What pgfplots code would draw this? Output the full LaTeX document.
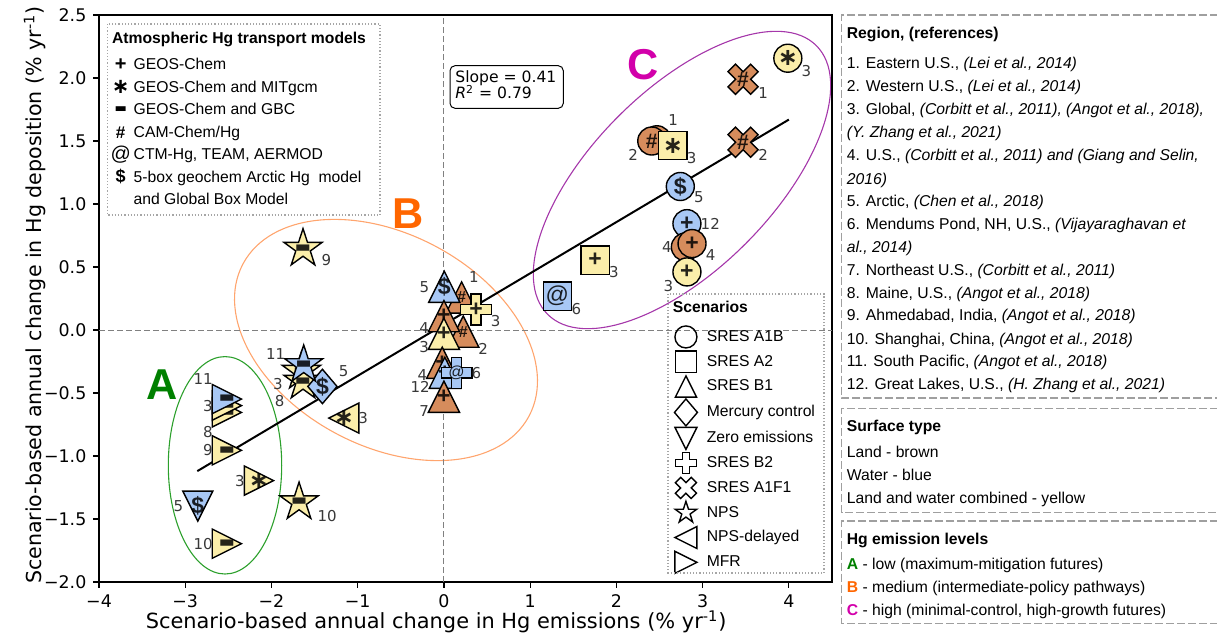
\documentclass[border=0pt]{standalone}
\usepackage{pgfplots}
\pgfplotsset{compat=1.18}
\usepackage{fontspec}
\setmainfont{Liberation Sans}
\newfontfamily\dv{DejaVu Sans}
\newcommand{\fs}[1]{\fontsize{#1}{#1}\selectfont}

\definecolor{cbrown}{RGB}{214,140,92}
\definecolor{cblue}{RGB}{168,200,245}
\definecolor{cyel}{RGB}{251,238,170}
\definecolor{cgreen}{RGB}{0,128,0}
\definecolor{corange}{RGB}{255,102,0}
\definecolor{cmag}{RGB}{210,0,170}
\definecolor{egreen}{RGB}{44,160,44}
\definecolor{eorange}{RGB}{255,165,110}
\definecolor{epurple}{RGB}{165,55,170}

% custom marks
\pgfdeclareplotmark{mtri}{\pgfpathmoveto{\pgfqpoint{0pt}{\pgfplotmarksize}}\pgfpathlineto{\pgfqpoint{-\pgfplotmarksize}{-\pgfplotmarksize}}\pgfpathlineto{\pgfqpoint{\pgfplotmarksize}{-\pgfplotmarksize}}\pgfpathclose\pgfusepathqfillstroke}
\pgfdeclareplotmark{mtrid}{\pgfpathmoveto{\pgfqpoint{0pt}{-\pgfplotmarksize}}\pgfpathlineto{\pgfqpoint{-\pgfplotmarksize}{\pgfplotmarksize}}\pgfpathlineto{\pgfqpoint{\pgfplotmarksize}{\pgfplotmarksize}}\pgfpathclose\pgfusepathqfillstroke}
\pgfdeclareplotmark{mtril}{\pgfpathmoveto{\pgfqpoint{-\pgfplotmarksize}{0pt}}\pgfpathlineto{\pgfqpoint{\pgfplotmarksize}{\pgfplotmarksize}}\pgfpathlineto{\pgfqpoint{\pgfplotmarksize}{-\pgfplotmarksize}}\pgfpathclose\pgfusepathqfillstroke}
\pgfdeclareplotmark{mtrir}{\pgfpathmoveto{\pgfqpoint{\pgfplotmarksize}{0pt}}\pgfpathlineto{\pgfqpoint{-\pgfplotmarksize}{\pgfplotmarksize}}\pgfpathlineto{\pgfqpoint{-\pgfplotmarksize}{-\pgfplotmarksize}}\pgfpathclose\pgfusepathqfillstroke}
\pgfdeclareplotmark{mdiam}{\pgfpathmoveto{\pgfqpoint{0pt}{\pgfplotmarksize}}\pgfpathlineto{\pgfqpoint{0.85\pgfplotmarksize}{0pt}}\pgfpathlineto{\pgfqpoint{0pt}{-\pgfplotmarksize}}\pgfpathlineto{\pgfqpoint{-0.85\pgfplotmarksize}{0pt}}\pgfpathclose\pgfusepathqfillstroke}
\pgfdeclareplotmark{mstar}{%
\pgfpathmoveto{\pgfqpoint{0pt}{\pgfplotmarksize}}%
\pgfpathlineto{\pgfqpoint{-0.2245\pgfplotmarksize}{0.3090\pgfplotmarksize}}%
\pgfpathlineto{\pgfqpoint{-0.9511\pgfplotmarksize}{0.3090\pgfplotmarksize}}%
\pgfpathlineto{\pgfqpoint{-0.3633\pgfplotmarksize}{-0.1180\pgfplotmarksize}}%
\pgfpathlineto{\pgfqpoint{-0.5878\pgfplotmarksize}{-0.8090\pgfplotmarksize}}%
\pgfpathlineto{\pgfqpoint{0pt}{-0.382\pgfplotmarksize}}%
\pgfpathlineto{\pgfqpoint{0.5878\pgfplotmarksize}{-0.8090\pgfplotmarksize}}%
\pgfpathlineto{\pgfqpoint{0.3633\pgfplotmarksize}{-0.1180\pgfplotmarksize}}%
\pgfpathlineto{\pgfqpoint{0.9511\pgfplotmarksize}{0.3090\pgfplotmarksize}}%
\pgfpathlineto{\pgfqpoint{0.2245\pgfplotmarksize}{0.3090\pgfplotmarksize}}%
\pgfpathclose\pgfusepathqfillstroke}
\pgfdeclareplotmark{mplus}{%
\pgfpathmoveto{\pgfqpoint{0.3333\pgfplotmarksize}{\pgfplotmarksize}}%
\pgfpathlineto{\pgfqpoint{-0.3333\pgfplotmarksize}{\pgfplotmarksize}}%
\pgfpathlineto{\pgfqpoint{-0.3333\pgfplotmarksize}{0.3333\pgfplotmarksize}}%
\pgfpathlineto{\pgfqpoint{-\pgfplotmarksize}{0.3333\pgfplotmarksize}}%
\pgfpathlineto{\pgfqpoint{-\pgfplotmarksize}{-0.3333\pgfplotmarksize}}%
\pgfpathlineto{\pgfqpoint{-0.3333\pgfplotmarksize}{-0.3333\pgfplotmarksize}}%
\pgfpathlineto{\pgfqpoint{-0.3333\pgfplotmarksize}{-\pgfplotmarksize}}%
\pgfpathlineto{\pgfqpoint{0.3333\pgfplotmarksize}{-\pgfplotmarksize}}%
\pgfpathlineto{\pgfqpoint{0.3333\pgfplotmarksize}{-0.3333\pgfplotmarksize}}%
\pgfpathlineto{\pgfqpoint{\pgfplotmarksize}{-0.3333\pgfplotmarksize}}%
\pgfpathlineto{\pgfqpoint{\pgfplotmarksize}{0.3333\pgfplotmarksize}}%
\pgfpathlineto{\pgfqpoint{0.3333\pgfplotmarksize}{0.3333\pgfplotmarksize}}%
\pgfpathclose\pgfusepathqfillstroke}
\pgfdeclareplotmark{mxx}{%
\pgfpathmoveto{\pgfqpoint{-0.4714\pgfplotmarksize}{0.9428\pgfplotmarksize}}%
\pgfpathlineto{\pgfqpoint{-0.9428\pgfplotmarksize}{0.4714\pgfplotmarksize}}%
\pgfpathlineto{\pgfqpoint{-0.4714\pgfplotmarksize}{0pt}}%
\pgfpathlineto{\pgfqpoint{-0.9428\pgfplotmarksize}{-0.4714\pgfplotmarksize}}%
\pgfpathlineto{\pgfqpoint{-0.4714\pgfplotmarksize}{-0.9428\pgfplotmarksize}}%
\pgfpathlineto{\pgfqpoint{0pt}{-0.4714\pgfplotmarksize}}%
\pgfpathlineto{\pgfqpoint{0.4714\pgfplotmarksize}{-0.9428\pgfplotmarksize}}%
\pgfpathlineto{\pgfqpoint{0.9428\pgfplotmarksize}{-0.4714\pgfplotmarksize}}%
\pgfpathlineto{\pgfqpoint{0.4714\pgfplotmarksize}{0pt}}%
\pgfpathlineto{\pgfqpoint{0.9428\pgfplotmarksize}{0.4714\pgfplotmarksize}}%
\pgfpathlineto{\pgfqpoint{0.4714\pgfplotmarksize}{0.9428\pgfplotmarksize}}%
\pgfpathlineto{\pgfqpoint{0pt}{0.4714\pgfplotmarksize}}%
\pgfpathclose\pgfusepathqfillstroke}

% symbols inside markers
\newcommand{\mP}{{\fs{11.5}\bfseries +}}
\newcommand{\mS}{{\dv\fs{12}\bfseries ∗}}
\newcommand{\mM}{{\dv\fs{8.5}▬}}
\newcommand{\mH}{{\fs{10.5}\bfseries \#}}
\newcommand{\mHs}{{\fs{8}\bfseries \#}}
\newcommand{\mA}{{\fs{11.5}@}}
\newcommand{\mAs}{{\fs{8}@}}
\newcommand{\mD}{{\fs{11.5}\bfseries \$}}

\tikzset{lbl/.style={font=\dv\fs{7.5}, text=black!78, inner sep=0.6pt}}

% x y mark size fill symbol label angle
\newcommand{\dpt}[8]{%
\addplot[forget plot, only marks, mark=#3, mark size=#4pt,
  mark options={fill=#5, draw=black, line width=0.7pt},
  nodes near coords={#6},
  every node near coord/.append style={anchor=center, inner sep=0pt, minimum size=#4*1.6pt,
     text=black, text opacity=0.85, label={[lbl]#8:#7}}]
  coordinates {(#1,#2)};}

\newcommand{\tl}[2]{\node[anchor=base west, inner sep=0pt, font=\fs{7.85}] at (846.5,#1) {#2};}

\begin{document}
\begin{tikzpicture}
\path[use as bounding box] (0,0) rectangle (608.5pt,319.5pt);

% ---------- annotations in pixel coordinates (background) ----------
\begin{scope}[x=0.5pt, y=-0.5pt, shift={(0,-639)}]
\draw[egreen, line width=0.55pt] (225,465.3) ellipse [x radius=28.35pt, y radius=54.35pt];
\draw[eorange, line width=0.55pt, rotate around={-28:(386,340)}] (386,340) ellipse [x radius=81pt, y radius=53pt];
\draw[epurple, line width=0.55pt, rotate around={45:(682,180)}] (682,180) ellipse [x radius=95pt, y radius=45pt];
\node[font=\fs{21.6}\bfseries, text=cgreen, inner sep=0pt] at (161.7,385) {A};
\node[font=\fs{21.6}\bfseries, text=corange, inner sep=0pt] at (408,214) {B};
\node[font=\fs{21.6}\bfseries, text=cmag, inner sep=0pt] at (643,65) {C};
\end{scope}

\begin{axis}[
  name=ax, at={(49.5pt,28.5pt)}, anchor=south west,
  scale only axis, width=366.5pt, height=283.5pt,
  xmin=-4, xmax=4.5, ymin=-2, ymax=2.5,
  xtick={-4,-3,-2,-1,0,1,2,3,4},
  xticklabels={−4,−3,−2,−1,0,1,2,3,4},
  ytick={-2,-1.5,-1,-0.5,0,0.5,1,1.5,2,2.5},
  yticklabels={−2.0,−1.5,−1.0,−0.5,0.0,0.5,1.0,1.5,2.0,2.5},
  tick pos=left, tick align=outside, major tick length=2.8pt,
  tick style={black, line width=0.6pt},
  tick label style={font=\dv\fs{8.7}},
  axis line style={line width=0.75pt},
  xlabel={Scenario-based annual change in Hg emissions (\% yr\textsuperscript{-1})},
  ylabel={Scenario-based annual change in Hg deposition (\% yr\textsuperscript{-1})},
  xlabel style={at={(axis description cs:0.46,-0.0705)}, anchor=center, font=\dv\fs{10.45}},
  ylabel style={at={(axis description cs:-0.0873,0.506)}, anchor=center, font=\dv\fs{10.3}},
  clip=false,
  legend style={at={(axis description cs:0.7851,0.4541)}, anchor=north west,
     draw=none, fill=none, inner sep=0pt, outer sep=0pt, font=\fs{7.85},
     row sep=0pt, column sep=4.7pt,
     nodes={inner xsep=0pt, inner ysep=2.4pt, text height=6pt, text depth=1.6pt}},
  legend cell align=left,
  legend image code/.code={\draw[#1, line width=0.7pt] plot coordinates {(0pt,0pt)};},
]
\addplot[forget plot, gray, line width=0.5pt, dash pattern=on 3pt off 1.5pt] coordinates {(0,-2) (0,2.5)};
\addplot[forget plot, gray, line width=0.5pt, dash pattern=on 3pt off 1.5pt] coordinates {(-4,0) (4.5,0)};

% ---- A group ----
\dpt{-2.517}{-0.654}{mtrir}{7.3}{cyel}{\mM}{8}{225}
\dpt{-2.517}{-0.600}{mtrir}{7.3}{cyel}{\mM}{3}{left}
\dpt{-2.517}{-0.548}{mtrir}{7.3}{cblue}{\mM}{11}{135}
\dpt{-2.517}{-0.955}{mtrir}{7.3}{cyel}{\mM}{9}{left}
\dpt{-2.145}{-1.195}{mtrir}{7.3}{cyel}{\mS}{3}{left}
\dpt{-2.854}{-1.398}{mtrid}{7.5}{cblue}{\mD}{5}{left}
\dpt{-2.517}{-1.696}{mtrir}{7.3}{cyel}{\mM}{10}{left}
\dpt{-1.680}{-1.366}{mstar}{10}{cyel}{\mM}{10}{-22}
% ---- B group ----
\dpt{-1.634}{0.646}{mstar}{10}{cyel}{\mM}{9}{-13}
\dpt{-1.653}{-0.330}{mstar}{10}{cyel}{\mM}{3}{195}
\dpt{-1.634}{-0.409}{mstar}{10}{cyel}{\mM}{8}{215}
\dpt{-1.409}{-0.448}{mdiam}{8.6}{cblue}{\mD}{5}{27}
\dpt{-1.626}{-0.277}{mstar}{10}{cblue}{\mM}{11}{168}
\dpt{-1.161}{-0.699}{mtril}{7.5}{cyel}{\mS}{3}{right}
\dpt{0.205}{0.258}{mtri}{7.8}{cbrown}{\mHs}{1}{67}
\dpt{0.004}{0.343}{mtri}{7.8}{cblue}{\mD}{5}{left}
\dpt{0.224}{-0.013}{mtri}{7.8}{cbrown}{\mHs}{2}{-36}
\dpt{0.000}{0.110}{mtri}{7.8}{cbrown}{\mP}{4}{199}
\dpt{0.000}{-0.030}{mtri}{7.8}{cyel}{\mP}{3}{205}
\dpt{0.372}{0.163}{mplus}{7.7}{cyel}{\mP}{3}{-18}
\dpt{-0.020}{-0.260}{mtri}{7.8}{cbrown}{\mP}{4}{199}
\dpt{0.010}{-0.340}{mtri}{7.8}{cblue}{\mP}{12}{207}
\dpt{0.147}{-0.340}{mplus}{7.7}{cblue}{\mAs}{6}{right}
\dpt{0.000}{-0.530}{mtri}{7.8}{cbrown}{\mP}{7}{206}
% ---- C group ----
\dpt{1.316}{0.269}{square*}{7.1}{cblue}{\mA}{6}{-24}
\dpt{1.754}{0.554}{square*}{7.1}{cyel}{\mP}{3}{-19}
\dpt{2.470}{1.510}{*}{7}{cbrown}{\mH}{1}{51}
\dpt{2.410}{1.500}{*}{7}{cbrown}{\mH}{2}{207}
\dpt{2.656}{1.464}{square*}{7.1}{cyel}{\mS}{3}{-21}
\dpt{3.469}{1.990}{mxx}{8}{cbrown}{\mH}{1}{-27}
\dpt{3.469}{1.490}{mxx}{8}{cbrown}{\mH}{2}{-21}
\dpt{3.988}{2.157}{*}{7}{cyel}{\mS}{3}{-25}
\dpt{2.741}{1.139}{*}{7}{cblue}{\mD}{5}{-17}
\dpt{2.818}{0.844}{*}{7}{cblue}{\mP}{12}{right}
\dpt{2.800}{0.659}{*}{7}{cbrown}{\mP}{4}{left}
\dpt{2.877}{0.686}{*}{7}{cbrown}{\mP}{4}{-19}
\dpt{2.818}{0.461}{*}{7}{cyel}{\mP}{3}{207}

% regression line
\addplot[forget plot, black, line width=1pt] coordinates {(-2.86,-1.12) (4.0,1.67)};

% scenarios legend
\addlegendimage{black, mark=*, mark size=5.5pt, mark options={fill=white, fill opacity=0}}
\addlegendentry{SRES A1B}
\addlegendimage{black, mark=square*, mark size=5.3pt, mark options={fill=white, fill opacity=0}}
\addlegendentry{SRES A2}
\addlegendimage{black, mark=mtri, mark size=5.3pt, mark options={fill=white, fill opacity=0}}
\addlegendentry{SRES B1}
\addlegendimage{black, mark=mdiam, mark size=6.75pt, mark options={fill=white, fill opacity=0}}
\addlegendentry{Mercury control}
\addlegendimage{black, mark=mtrid, mark size=5.5pt, mark options={fill=white, fill opacity=0}}
\addlegendentry{Zero emissions}
\addlegendimage{black, mark=mplus, mark size=5.3pt, mark options={fill=white, fill opacity=0}}
\addlegendentry{SRES B2}
\addlegendimage{black, mark=mxx, mark size=5.6pt, mark options={fill=white, fill opacity=0}}
\addlegendentry{SRES A1F1}
\addlegendimage{black, mark=mstar, mark size=5.7pt, mark options={fill=white, fill opacity=0}}
\addlegendentry{NPS}
\addlegendimage{black, mark=mtril, mark size=5.5pt, mark options={fill=white, fill opacity=0}}
\addlegendentry{NPS-delayed}
\addlegendimage{black, mark=mtrir, mark size=5.5pt, mark options={fill=white, fill opacity=0}}
\addlegendentry{MFR}
\end{axis}

% ---------- foreground annotations in pixel coordinates ----------
\begin{scope}[x=0.5pt, y=-0.5pt, shift={(0,-639)}]
% left model legend
\draw[gray!70, densely dotted, line width=0.6pt] (107.3,24) rectangle (380,215);
\node[anchor=base west, inner sep=0pt, font=\fs{7.85}\bfseries] at (111.7,43.9) {Atmospheric Hg transport models};
\node[inner sep=0pt, font=\fs{10}\bfseries] at (120.7,64.3) {+};
\node[inner sep=0pt, font=\dv\fs{10.5}\bfseries] at (120.7,87.3) {∗};
\node[inner sep=0pt, font=\dv\fs{6.5}] at (120.7,109.3) {▬};
\node[inner sep=0pt, font=\fs{8.5}\bfseries] at (120.7,132.3) {\#};
\node[inner sep=0pt, font=\fs{10}] at (120.7,154.3) {@};
\node[inner sep=0pt, font=\fs{9}\bfseries] at (120.7,176.7) {\$};
\node[anchor=base west, inner sep=0pt, font=\fs{7.85}] at (133.3,69.9) {GEOS-Chem};
\node[anchor=base west, inner sep=0pt, font=\fs{7.85}] at (133.3,92.9) {GEOS-Chem and MITgcm};
\node[anchor=base west, inner sep=0pt, font=\fs{7.85}] at (133.3,114.9) {GEOS-Chem and GBC};
\node[anchor=base west, inner sep=0pt, font=\fs{7.85}] at (133.3,137.9) {CAM-Chem/Hg};
\node[anchor=base west, inner sep=0pt, font=\fs{7.85}] at (133.3,159.9) {CTM-Hg, TEAM, AERMOD};
\node[anchor=base west, inner sep=0pt, font=\fs{7.85}] at (133.3,182.3) {5-box geochem Arctic Hg\ \ model};
\node[anchor=base west, inner sep=0pt, font=\fs{7.85}] at (133.3,204.9) {and Global Box Model};
% slope box
\draw[black, line width=0.5pt, rounded corners=2.5pt] (450,65.7) rectangle (563.3,108.3);
\node[anchor=base west, inner sep=0pt, font=\dv\fs{7.8}] at (455,82.8) {Slope = 0.41};
\node[anchor=base west, inner sep=0pt, font=\dv\fs{7.8}] at (455,98.8) {{\itshape R}\textsuperscript{2} = 0.79};
% scenarios box
\draw[gray!70, densely dotted, line width=0.6pt] (668,294) rectangle (824,573);
\node[anchor=base west, inner sep=0pt, font=\fs{7.85}\bfseries] at (672.5,312.3) {Scenarios};
% right panels
\tikzset{bx/.style={draw=gray!75, dash pattern=on 4pt off 1.5pt, line width=0.65pt}}
\draw[bx] (1240,15) -- (841.7,15) -- (841.7,398) -- (1240,398);
\draw[bx] (1240,408.3) -- (841.7,408.3) -- (841.7,512.3) -- (1240,512.3);
\draw[bx] (1240,521) -- (841.7,521) -- (841.7,623.3) -- (1240,623.3);
\tl{38.3}{\textbf{Region, (references)}}
\tl{68.3}{1. Eastern U.S., \textit{(Lei et al., 2014)}}
\tl{91.6}{2. Western U.S., \textit{(Lei et al., 2014)}}
\tl{115}{3. Global, \textit{(Corbitt et al., 2011), (Angot et al., 2018),}}
\tl{137.3}{\textit{(Y. Zhang et al., 2021)}}
\tl{160.6}{4. U.S., \textit{(Corbitt et al., 2011) and (Giang and Selin,}}
\tl{184}{\textit{2016)}}
\tl{206.3}{5. Arctic, \textit{(Chen et al., 2018)}}
\tl{229}{6. Mendums Pond, NH, U.S., \textit{(Vijayaraghavan et}}
\tl{252.3}{\textit{al., 2014)}}
\tl{275}{7. Northeast U.S., \textit{(Corbitt et al., 2011)}}
\tl{298.3}{8. Maine, U.S., \textit{(Angot et al., 2018)}}
\tl{320.6}{9. Ahmedabad, India, \textit{(Angot et al., 2018)}}
\tl{344}{10. Shanghai, China, \textit{(Angot et al., 2018)}}
\tl{366.3}{11. South Pacific, \textit{(Angot et al., 2018)}}
\tl{389.6}{12. Great Lakes, U.S., \textit{(H. Zhang et al., 2021)}}
\tl{431.3}{\textbf{Surface type}}
\tl{457.9}{Land - brown}
\tl{480.6}{Water - blue}
\tl{503.3}{Land and water combined - yellow}
\tl{544}{\textbf{Hg emission levels}}
\tl{569.9}{{\color{cgreen}\textbf{A}} - low (maximum-mitigation futures)}
\tl{592.6}{{\color{corange}\textbf{B}} - medium (intermediate-policy pathways)}
\tl{615.3}{{\color{cmag}\textbf{C}} - high (minimal-control, high-growth futures)}
\end{scope}
\end{tikzpicture}
\end{document}
